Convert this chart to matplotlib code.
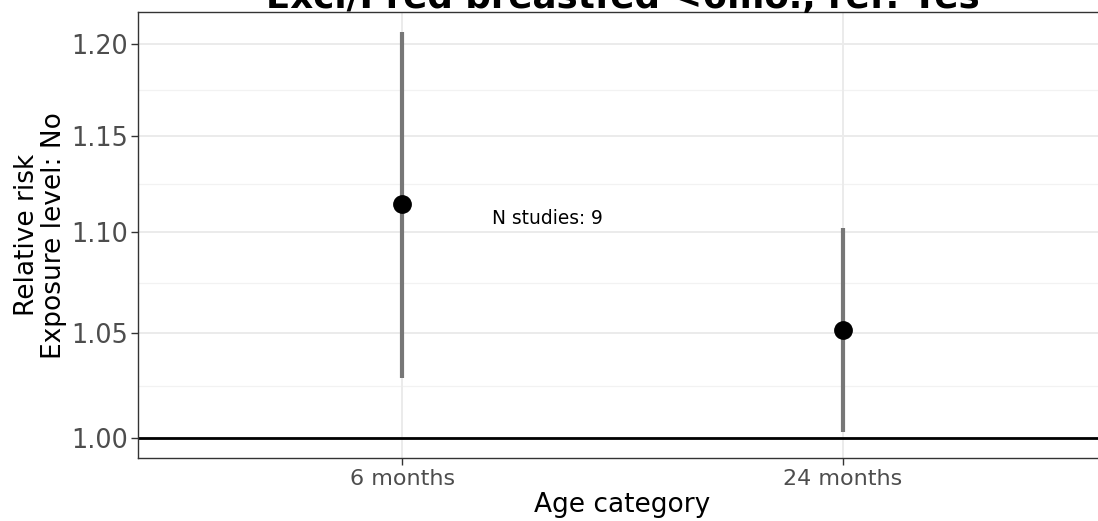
import matplotlib
matplotlib.use("Agg")
import matplotlib.pyplot as plt
import numpy as np

# Data
categories = ["6 months", "24 months"]
estimates = [1.1144, 1.0513]
lower = [1.0283, 1.0029]
upper = [1.2070, 1.1022]
y_ticks = [1.00, 1.05, 1.10, 1.15, 1.20]
y_tick_labels = ["1.00", "1.05", "1.10", "1.15", "1.20"]
annotation = "N studies: 9"
title = "Excl/Pred breastfed <6mo., ref: Yes"

W, H = 1098, 521
fig = plt.figure(figsize=(W / 100, H / 100), dpi=100)
left, right, top, bottom = 138 / W, 1107 / W, 1 - 12.3 / H, 1 - 458.3 / H
ax = fig.add_axes([left, bottom, right - left, top - bottom])

x = np.arange(1, len(categories) + 1)
ax.set_yscale("log")
ax.set_xlim(0.4, len(categories) + 0.6)
ax.set_ylim(0.99079, 1.2179)

# grid
minor = [np.sqrt(y_ticks[i] * y_ticks[i + 1]) for i in range(len(y_ticks) - 1)]
for m in minor:
    ax.axhline(m, color="#F2F2F2", lw=0.9, zorder=0)
for t in y_ticks:
    ax.axhline(t, color="#EBEBEB", lw=1.4, zorder=0)
for xi in x:
    ax.axvline(xi, color="#EBEBEB", lw=1.4, zorder=0)

ax.axhline(1.0, color="black", lw=2.0, zorder=1)

ax.vlines(x, lower, upper, color="#777777", lw=3.0, zorder=2)
ax.plot(x, estimates, "o", color="black", ms=12.5, zorder=3)

ax.text(1.33, 1.1073, annotation, ha="center", va="center", fontsize=13.4, color="black")

ax.set_yticks(y_ticks)
ax.set_yticklabels(y_tick_labels)
ax.yaxis.set_minor_locator(matplotlib.ticker.NullLocator())
ax.set_xticks(x)
ax.set_xticklabels(categories)
ax.tick_params(axis="y", labelsize=18.4, colors="#4D4D4D", length=5, width=1.0, pad=2)
ax.tick_params(axis="x", labelsize=16, colors="#4D4D4D", length=5, width=1.0, pad=3)
ax.tick_params(axis="both", color="#333333")

ax.set_xlabel("Age category", fontsize=19, labelpad=2)
ax.set_ylabel("Relative risk\nExposure level: No", fontsize=19, labelpad=3, linespacing=1.05)

for s in ax.spines.values():
    s.set_color("#333333")
    s.set_linewidth(1.0)

fig.text((138 + 1107) / 2 / W, 1 - 8 / H, title, ha="center", va="baseline",
         fontsize=25.7, fontweight="bold")

fig.savefig("out.png", dpi=100)
